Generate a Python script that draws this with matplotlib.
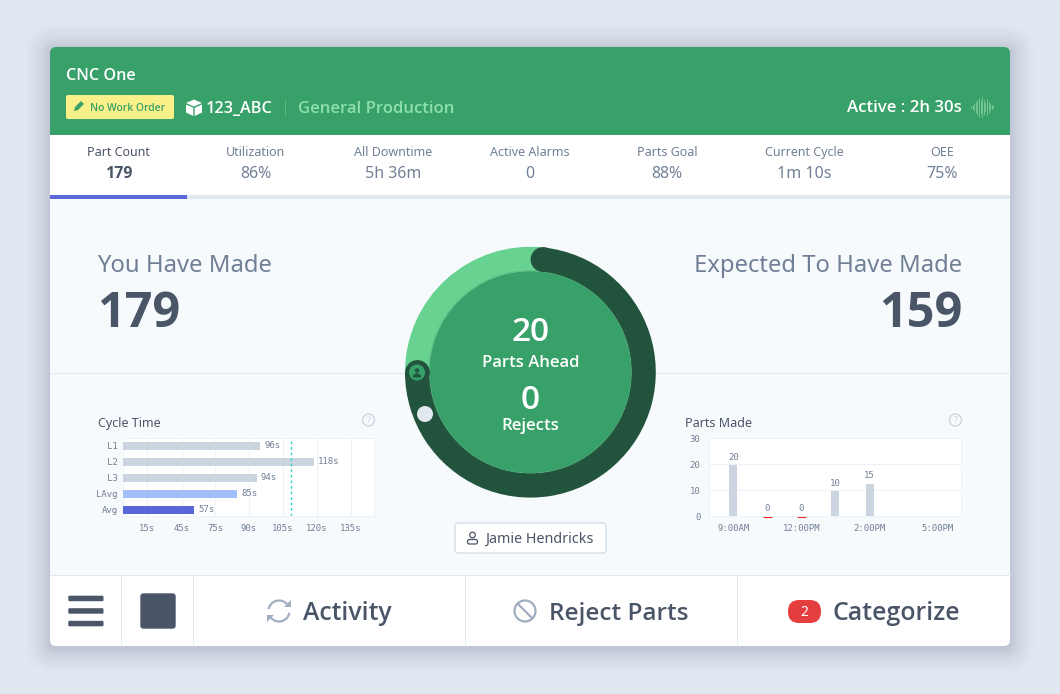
import numpy as np
import matplotlib
matplotlib.use("Agg")
import matplotlib.pyplot as plt
from matplotlib.patches import FancyBboxPatch, Circle, Rectangle, Polygon, Arc, Wedge

plt.rcParams['font.family'] = ['Noto Sans', 'DejaVu Sans']

W, H = 1060, 694

tab_labels = ["Part Count", "Utilization", "All Downtime", "Active Alarms", "Parts Goal", "Current Cycle", "OEE"]
tab_values = ["179", "86%", "5h 36m", "0", "88%", "1m 10s", "75%"]

cycle_labels = ["L1", "L2", "L3", "LAvg", "Avg"]
cycle_values = [96, 118, 94, 85, 57]
cycle_ticks = [15, 45, 75, 90, 105, 120, 135]
cycle_target = 108.5

parts_labels = [20, 0, 0, 10, 15, None, None]
parts_heights = [19.5, 0, 0, 9.5, 12.5, 0, 0]
parts_hours = ["9:00AM", "", "12:00PM", "", "2:00PM", "", "5:00PM"]

gauge_sizes = [96, 264]

GREEN = "#38a169"
DARK = "#22543d"
LIGHT = "#68d391"
TEXT = "#4a5568"
MUTED = "#718096"
BORDER = "#e2e8f0"
MONO = "DejaVu Sans Mono"
BOLD = dict(family="Open Sans", fontweight=600)
HEAVY = dict(family="Open Sans", fontweight=700)

# the time axis of the source is stretched unevenly, these are its knots
scale_v = [0, 15, 45, 57, 75, 85, 90, 94, 96, 105, 118, 120, 135, 155]
scale_p = [0, 24.3, 59, 71.3, 92.3, 114.3, 126.3, 134, 137.3, 160.3, 191.3, 194.3, 228.3, 251.3]


def px_axes(x0, y0, x1, y1):
    return fig.add_axes([x0 / W, 1 - y1 / H, (x1 - x0) / W, (y1 - y0) / H])


def rrect(a, x0, y0, x1, y1, r, **kw):
    p = FancyBboxPatch((x0, y0), x1 - x0, y1 - y0, boxstyle=f"round,pad=0,rounding_size={r}", **kw)
    a.add_patch(p)
    return p


def help_icon(a, x, y):
    a.add_patch(Circle((x, y), 6, fill=False, ec="#cbd5e0", lw=1))
    a.text(x, y, "?", fontsize=6.5, color="#cbd5e0", ha="center", va="center")


def cycle_forward(v):
    return np.interp(v, scale_v, scale_p)


def cycle_inverse(v):
    return np.interp(v, scale_p, scale_v)


fig = plt.figure(figsize=(W / 100, H / 100), dpi=100, facecolor="#e2e8f1")

# page layer, everything in pixels
bg = fig.add_axes([0, 0, 1, 1])
bg.set_xlim(0, W)
bg.set_ylim(H, 0)
bg.axis("off")

for i in range(52, 0, -1):
    rrect(bg, 50 - i, 49 - i, 1010 + i, 648 + i, 6 + i, fc="#3a4660", ec="none", alpha=0.012 * np.exp(-i / 14))

card = rrect(bg, 50, 47, 1010, 646, 6, fc="white", ec="none")


def clipped_rect(x0, y0, x1, y1, color):
    r = Rectangle((x0, y0), x1 - x0, y1 - y0, fc=color, ec="none")
    bg.add_patch(r)
    r.set_clip_path(card)


clipped_rect(50, 47, 1010, 135, GREEN)
clipped_rect(50, 199, 1010, 575, "#f7fafc")
clipped_rect(50, 195, 1010, 199, BORDER)
clipped_rect(50, 195, 187, 199, "#5a67d8")
bg.plot([50, 1010], [372.5, 372.5], color=BORDER, lw=0.72)
bg.plot([50, 1010], [574.5, 574.5], color=BORDER, lw=0.72)
for x in [120.5, 192.5, 464.5, 736.5]:
    bg.plot([x, x], [575, 646], color=BORDER, lw=0.72)

# header
bg.text(66, 75.5, "CNC One", color="white", fontsize=11.6, va="center", **BOLD)
rrect(bg, 66, 95, 174, 119, 2, fc="#faf089", ec="none")
bg.add_patch(Polygon([[74, 111], [75, 107], [81, 101], [84, 104], [78, 110]], fc=GREEN, ec="none"))
bg.text(90.5, 108, "No Work Order", color=GREEN, fontsize=7.4, va="center", **BOLD)
bg.add_patch(Polygon([[186, 103], [194, 99.5], [202, 103], [194, 106.5]], fc="white", ec="none"))
bg.add_patch(Polygon([[186, 104.5], [193.3, 107.7], [193.3, 116], [186, 112.5]], fc="white", ec="none"))
bg.add_patch(Polygon([[202, 104.5], [194.7, 107.7], [194.7, 116], [202, 112.5]], fc="white", ec="none"))
bg.text(206, 108.5, "123_ABC", color="white", fontsize=11.7, va="center", **BOLD)
bg.plot([284.5, 284.5], [100, 115], color="#5bb981", lw=0.72)
bg.text(298, 108.5, "General Production", color="#8fe0ab", fontsize=12, va="center", **BOLD)
bg.text(962, 107.5, "Active : 2h 30s", color="white", fontsize=12.1, va="center", ha="right", **BOLD)
wave_h = [1, 2, 3, 5, 7, 9, 6, 10, 7, 4, 8, 5, 3, 2, 1]
for k, h in enumerate(wave_h):
    bg.plot([971 + k * 1.6] * 2, [107 - h, 107 + h], color="#7fcb9b", lw=0.6)

# tabs
for k, (lab, val) in enumerate(zip(tab_labels, tab_values)):
    cx = 118.5 + k * 137.2
    bg.text(cx, 152.5, lab, color=TEXT if k == 0 else MUTED, fontsize=9, ha="center", va="center")
    if k == 0:
        bg.text(cx, 174, val, color=TEXT, fontsize=11.5, ha="center", va="center", **HEAVY)
    else:
        bg.text(cx, 174, val, color=MUTED, fontsize=11.5, ha="center", va="center")

# big numbers
bg.text(97.5, 265.5, "You Have Made", color=MUTED, fontsize=17.2, va="center")
bg.text(97.5, 314, "179", color=TEXT, fontsize=35, va="center", **HEAVY)
bg.text(962, 265.5, "Expected To Have Made", color=MUTED, fontsize=17.2, va="center", ha="right")
bg.text(962, 314, "159", color=TEXT, fontsize=35, va="center", ha="right", **HEAVY)

bg.text(98, 423, "Cycle Time", color=TEXT, fontsize=9, va="center")
help_icon(bg, 368.5, 420)
bg.text(685, 423, "Parts Made", color=TEXT, fontsize=9, va="center")
help_icon(bg, 955.5, 420)

# button under the gauge
rrect(bg, 455, 523, 606, 553, 3, fc="white", ec="#cbd5e0", lw=0.8)
bg.add_patch(Circle((472.5, 535), 2.8, fill=False, ec=TEXT, lw=0.9))
rrect(bg, 467.5, 539.5, 477.5, 544, 2, fc="none", ec=TEXT, lw=0.9)
bg.text(485, 539, "Jamie Hendricks", color=TEXT, fontsize=10.3, va="center")

# bottom bar
for y0 in [595.7, 608.2, 620.8]:
    rrect(bg, 68.3, y0, 103.5, y0 + 5.5, 1.2, fc=TEXT, ec="none")
rrect(bg, 140.3, 593.3, 175.7, 628.7, 3, fc=TEXT, ec="none")

ICON = "#a0aec0"
bg.add_patch(Arc((279, 611), 21, 21, theta1=190, theta2=320, color=ICON, lw=1.6))
bg.add_patch(Arc((279, 611), 21, 21, theta1=10, theta2=140, color=ICON, lw=1.6))
bg.add_patch(Polygon([[291, 600], [291, 607], [284, 607]], fc=ICON, ec="none"))
bg.add_patch(Polygon([[267, 622], [267, 615], [274, 615]], fc=ICON, ec="none"))
bg.text(303, 613.5, "Activity", color=TEXT, fontsize=17.8, va="center", **BOLD)

bg.add_patch(Circle((525, 611), 10.5, fill=False, ec=ICON, lw=1.6))
bg.plot([518, 532], [604, 618], color=ICON, lw=1.6)
bg.text(549, 613.5, "Reject Parts", color=TEXT, fontsize=17.6, va="center", **BOLD)

rrect(bg, 788, 600, 821, 623, 11, fc="#e53e3e", ec="none")
bg.text(804.5, 612, "2", color="white", fontsize=10, ha="center", va="center")
bg.text(833, 613.5, "Categorize", color=TEXT, fontsize=17.9, va="center", **BOLD)

# gauge ring
gx, gy, gr = 530.4, 372.2, 125.4
gauge = px_axes(gx - gr, gy - gr, gx + gr, gy + gr)
gauge.pie(gauge_sizes, colors=[LIGHT, DARK], startangle=180, counterclock=False, radius=1,
          wedgeprops=dict(width=24.4 / gr, lw=0))
gauge.set_xlim(-1, 1)
gauge.set_ylim(-1, 1)

top = fig.add_axes([0, 0, 1, 1], facecolor="none")
top.set_xlim(0, W)
top.set_ylim(H, 0)
top.axis("off")

top.add_patch(Circle((gx, gy), 102, fc="#2f8a58", ec="none", alpha=0.25))
top.add_patch(Circle((gx, gy), 101, fc=GREEN, ec="none"))
top.add_patch(Circle((543, 259.5), 12.4, fc=DARK, ec="none"))
top.add_patch(Circle((417.5, 372.5), 12.4, fc=DARK, ec="none"))
top.add_patch(Circle((417, 372.5), 8, fc=GREEN, ec="none"))
top.add_patch(Circle((417, 370.5), 2.2, fc=DARK, ec="none"))
top.add_patch(Wedge((417, 377.5), 4.2, 180, 360, fc=DARK, ec="none"))
top.add_patch(Circle((425, 414), 8, fc="#e2e8f0", ec="none"))
top.text(530.5, 332.5, "20", color="white", fontsize=24, ha="center", va="center", **BOLD)
top.text(530.5, 363, "Parts Ahead", color="white", fontsize=12, ha="center", va="center", **BOLD)
top.text(530.5, 400.5, "0", color="white", fontsize=24, ha="center", va="center", **BOLD)
top.text(530.5, 426, "Rejects", color="white", fontsize=12.1, ha="center", va="center", **BOLD)

# cycle time chart
ax = px_axes(122.7, 438, 374, 516)
ax.set_xscale("function", functions=(cycle_forward, cycle_inverse))
ax.set_xlim(0, 155)
ax.set_ylim(4.39, -0.48)
cycle_colors = ["#cbd5e0", "#cbd5e0", "#cbd5e0", "#a3bffa", "#5a67d8"]
ax.barh(range(len(cycle_values)), cycle_values, height=0.5, color=cycle_colors, zorder=3)
for i, v in enumerate(cycle_values):
    ax.annotate(f"{v}s", (v, i), xytext=(3, 0), textcoords="offset points", va="center",
                fontsize=6.5, family=MONO, color=MUTED)
ax.axvline(cycle_target, color="#38d9c0", lw=1, ls=(0, (2, 2)), zorder=4)
ax.set_xticks(cycle_ticks)
ax.set_xticklabels([f"{t}s" for t in cycle_ticks], family=MONO, fontsize=6.5, color=MUTED)
ax.xaxis.set_minor_locator(plt.NullLocator())
ax.set_yticks(range(len(cycle_labels)))
ax.set_yticklabels(cycle_labels, family=MONO, fontsize=6.5, color=MUTED)
ax.tick_params(length=0, pad=3.5)
ax.tick_params(axis="x", pad=5.5)
ax.grid(axis="x", color="#edf2f7", lw=0.8, zorder=0)
for s in ax.spines.values():
    s.set_color("#edf2f7")
    s.set_linewidth(0.72)

# parts made chart
ax2 = px_axes(709.3, 438.3, 961, 516)
ax2.set_xlim(-0.71, 6.69)
ax2.set_ylim(0, 30)
ax2.bar(range(len(parts_heights)), parts_heights, width=0.235, color="#cbd5e0", zorder=3)
for i, lab in enumerate(parts_labels):
    if lab is None:
        continue
    ax2.annotate(str(lab), (i, parts_heights[i]), xytext=(0, 2.5), textcoords="offset points",
                 ha="center", va="bottom", fontsize=6.5, family=MONO, color=MUTED)
    if lab == 0:
        ax2.hlines(-0.55, i - 0.12, i + 0.12, color="#f03030", lw=0.8, clip_on=False, zorder=5, snap=True)
ax2.set_xticks(range(len(parts_hours)))
ax2.set_xticklabels(parts_hours, family=MONO, fontsize=6.5, color=MUTED)
ax2.set_yticks([0, 10, 20, 30])
ax2.set_yticklabels(["0", "10", "20", "30"], family=MONO, fontsize=6.5, color=MUTED)
ax2.tick_params(axis="y", length=0, pad=6.5)
ax2.tick_params(axis="x", length=3, color="#edf2f7", pad=3)
ax2.grid(axis="y", color="#edf2f7", lw=0.8, zorder=0)
for s in ax2.spines.values():
    s.set_color("#edf2f7")
    s.set_linewidth(0.72)

fig.savefig("out.png", dpi=100)
